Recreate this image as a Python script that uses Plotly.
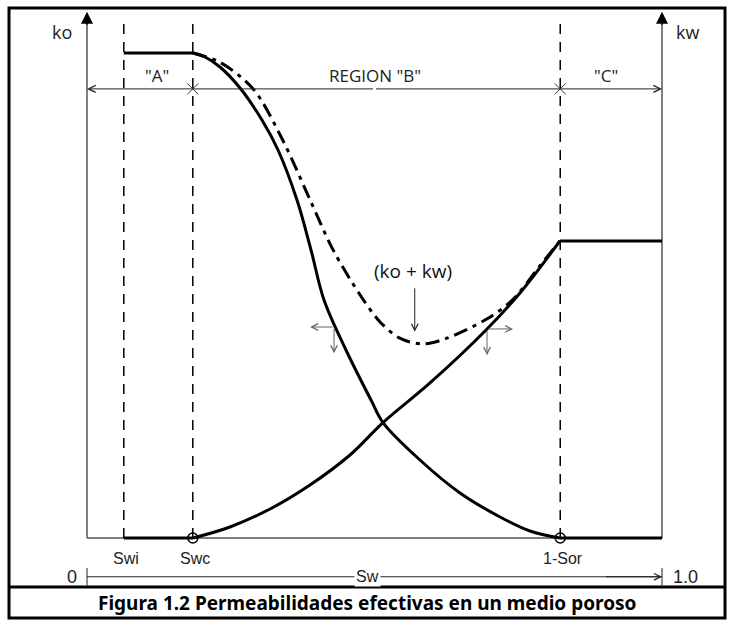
import plotly.graph_objects as go

# ---------------- data (Sw fraction, relative permeability fraction) ----------------
SW_MARK_LABELS = ["Swi", "Swc", "1-Sor"]
SW_MARKS = [0.064, 0.184, 0.823]

ko_sw = [0.064, 0.1843, 0.2052, 0.2313, 0.2661, 0.3043, 0.3322, 0.3652, 0.3896, 0.4122,
         0.4504, 0.4939, 0.5148, 0.5791, 0.6487, 0.7183, 0.7704, 0.8226, 1.0]
ko = [1.0, 1.0, 0.9918, 0.9711, 0.9278, 0.8619, 0.800, 0.6969, 0.5938, 0.4907,
      0.3876, 0.2845, 0.238, 0.1608, 0.0928, 0.0433, 0.0144, 0.0, 0.0]

kw_sw = [0.064, 0.1843, 0.2487, 0.3183, 0.3878, 0.4574, 0.5148, 0.5965, 0.6957, 0.7530, 0.8226, 1.0]
kw = [0.0, 0.0, 0.0227, 0.0598, 0.1093, 0.1711, 0.238, 0.3196, 0.4309, 0.5052, 0.6124, 0.6124]

sum_sw = [0.1843, 0.231, 0.289, 0.341, 0.388, 0.428, 0.475, 0.510, 0.544, 0.584,
          0.626, 0.696, 0.741, 0.788, 0.8226]
ko_kw = [1.0, 0.981, 0.926, 0.819, 0.697, 0.594, 0.501, 0.445, 0.412, 0.400,
         0.412, 0.452, 0.492, 0.562, 0.6124]

REGION_LABELS = ['"A"', 'REGION "B"', '"C"']
CAPTION = "Figura 1.2 Permeabilidades efectivas en un medio poroso"

# ---------------- layout constants ----------------
W, H = 734, 623
X_RANGE = [-0.1513, 1.1252]
Y_RANGE = [-0.1753, 1.1093]
REGION_Y = 0.926
SCALE_Y = -0.080
LABEL_Y = -0.043
TOP_DASH = 1.068
AXIS_TOP = 1.085
GRAY = "#555555"
TXT = "#222222"

fig = go.Figure()


def add_curve(xs, ys, **line_kw):
    """flat start (linear) + curved middle (spline) + flat end (linear)"""
    base = dict(color="black", width=3)
    base.update(line_kw)
    fig.add_trace(go.Scatter(x=xs[:2], y=ys[:2], mode="lines", line=dict(base),
                             hoverinfo="skip", showlegend=False))
    fig.add_trace(go.Scatter(x=xs[1:-1], y=ys[1:-1], mode="lines",
                             line=dict(base, shape="spline", smoothing=1.0),
                             hoverinfo="skip", showlegend=False))
    fig.add_trace(go.Scatter(x=xs[-2:], y=ys[-2:], mode="lines", line=dict(base),
                             hoverinfo="skip", showlegend=False))


add_curve(ko_sw, ko)
add_curve(kw_sw, kw)
fig.add_trace(go.Scatter(x=sum_sw, y=ko_kw, mode="lines",
                         line=dict(color="black", width=3, dash="14px,6px,4px,6px", shape="spline", smoothing=0.9),
                         hoverinfo="skip", showlegend=False))

# baseline
fig.add_shape(type="line", x0=0, x1=1, y0=0, y1=0, line=dict(color=GRAY, width=1.5), layer="below")
# axes
fig.add_shape(type="line", x0=0, x1=0, y0=0, y1=AXIS_TOP - 0.02, line=dict(color=GRAY, width=1.5), layer="below")
fig.add_shape(type="line", x0=1, x1=1, y0=0, y1=AXIS_TOP - 0.02, line=dict(color=GRAY, width=1.5), layer="below")
for xa in (0, 1):
    fig.add_annotation(x=xa, y=AXIS_TOP, ax=xa, ay=AXIS_TOP - 0.03, xref="x", yref="y", axref="x", ayref="y",
                       text="", showarrow=True, arrowhead=2, arrowsize=1.6, arrowwidth=1.5, arrowcolor="black")

# vertical dashed lines
for xm in SW_MARKS:
    fig.add_shape(type="line", x0=xm, x1=xm, y0=0, y1=TOP_DASH,
                  line=dict(color="black", width=1.5, dash="10px,8px"), layer="below")

# region line with arrows
mid = 0.5
for xe in (0, 1):
    fig.add_annotation(x=xe, y=REGION_Y, ax=mid, ay=REGION_Y, xref="x", yref="y", axref="x", ayref="y",
                       text="", showarrow=True, arrowhead=5, arrowsize=1.4, arrowwidth=1, arrowcolor=TXT)
fig.add_trace(go.Scatter(x=[SW_MARKS[1], SW_MARKS[2]], y=[REGION_Y, REGION_Y], mode="markers",
                         marker=dict(symbol="x-thin-open", size=11, color="#333", line=dict(color="#333", width=1)),
                         hoverinfo="skip", showlegend=False))
region_x = [0.122, 0.50, 0.903]
for rx, lab in zip(region_x, REGION_LABELS):
    fig.add_annotation(x=rx, y=REGION_Y + 0.028, text=lab, showarrow=False,
                       font=dict(family="Open Sans", size=17, color=TXT))

# circles
fig.add_trace(go.Scatter(x=[SW_MARKS[1], SW_MARKS[2]], y=[0, 0], mode="markers",
                         marker=dict(symbol="circle-open", size=10, color="black", line=dict(color="black", width=1.5)),
                         hoverinfo="skip", showlegend=False))

# saturation labels
for xm, lab in zip(SW_MARKS, SW_MARK_LABELS):
    fig.add_annotation(x=xm + 0.004, y=LABEL_Y, text=lab, showarrow=False,
                       font=dict(family="Liberation Sans", size=16, color=TXT))

# Sw scale line
fig.add_shape(type="line", x0=0, x1=1, y0=SCALE_Y, y1=SCALE_Y, line=dict(color=TXT, width=1))
fig.add_annotation(x=1, y=SCALE_Y, ax=0.9, ay=SCALE_Y, xref="x", yref="y", axref="x", ayref="y",
                   text="", showarrow=True, arrowhead=5, arrowsize=1.3, arrowwidth=1, arrowcolor=TXT)
for xe in (0, 1):
    fig.add_shape(type="line", x0=xe, x1=xe, y0=SCALE_Y - 0.018, y1=SCALE_Y + 0.018, line=dict(color=TXT, width=1))
fig.add_annotation(x=0.487, y=SCALE_Y, text="Sw", showarrow=False, bgcolor="white",
                   font=dict(family="Liberation Sans", size=16, color=TXT))
fig.add_annotation(x=-0.026, y=SCALE_Y, text="0", showarrow=False,
                   font=dict(family="Liberation Sans", size=18, color=TXT))
fig.add_annotation(x=1.04, y=SCALE_Y, text="1.0", showarrow=False,
                   font=dict(family="Liberation Sans", size=18, color=TXT))

# axis titles
fig.add_annotation(x=-0.0435, y=1.043, text="ko", showarrow=False, font=dict(family="Open Sans", size=18, color=TXT))
fig.add_annotation(x=1.044, y=1.043, text="kw", showarrow=False, font=dict(family="Open Sans", size=18, color=TXT))

# (ko + kw) label and pointer
fig.add_annotation(x=0.567, y=0.551, text="(ko + kw)", showarrow=False,
                   font=dict(family="Open Sans", size=19, color="#111"))
fig.add_annotation(x=0.570, y=0.425, ax=0.570, ay=0.518, xref="x", yref="y", axref="x", ayref="y",
                   text="", showarrow=True, arrowhead=5, arrowsize=1.3, arrowwidth=1, arrowcolor=TXT)

# small gray direction arrows
for (x0, y0, xh, yh) in [(0.4296, 0.435, 0.388, 0.381), (0.6957, 0.431, 0.741, 0.377)]:
    fig.add_annotation(x=xh, y=y0, ax=x0, ay=y0, xref="x", yref="y", axref="x", ayref="y",
                       text="", showarrow=True, arrowhead=5, arrowsize=1.3, arrowwidth=1, arrowcolor="#666")
    fig.add_annotation(x=x0, y=yh, ax=x0, ay=y0, xref="x", yref="y", axref="x", ayref="y",
                       text="", showarrow=True, arrowhead=5, arrowsize=1.3, arrowwidth=1, arrowcolor="#666")

# frame and caption
fig.add_shape(type="rect", xref="paper", yref="paper", x0=9 / W, x1=725 / W, y0=1 - 618 / H, y1=1 - 8 / H,
              line=dict(color="black", width=3))
fig.add_shape(type="line", xref="paper", yref="paper", x0=9 / W, x1=725 / W, y0=1 - 587 / H, y1=1 - 587 / H,
              line=dict(color="black", width=3))
fig.add_annotation(xref="paper", yref="paper", x=367 / W, y=1 - 603 / H, xanchor="center", yanchor="middle",
                   text="<b>" + CAPTION + "</b>",
                   showarrow=False, font=dict(family="Noto Sans", size=19, color="black"))

fig.update_layout(width=W, height=H, margin=dict(l=0, r=0, t=0, b=0), autosize=False,
                  paper_bgcolor="white", plot_bgcolor="white", showlegend=False,
                  xaxis=dict(range=X_RANGE, visible=False, fixedrange=True),
                  yaxis=dict(range=Y_RANGE, visible=False, fixedrange=True))

fig.write_html("out.html", config={"displayModeBar": False},
               post_script="document.body.style.margin='0';document.body.style.padding='0';")
